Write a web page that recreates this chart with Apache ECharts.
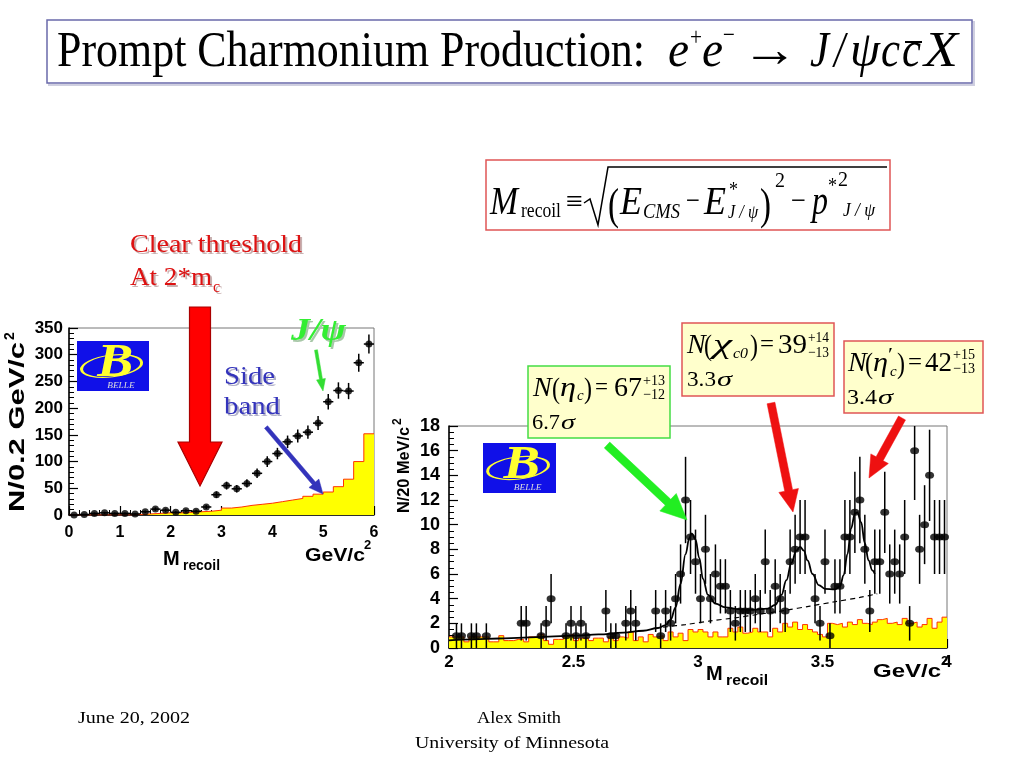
<!DOCTYPE html>
<html><head><meta charset="utf-8">
<script src="https://cdn.jsdelivr.net/npm/echarts@6/dist/echarts.min.js"></script>
<style>html,body{margin:0;padding:0;background:#fff}#c{width:1024px;height:768px}</style>
</head><body><div id="c"></div>
<script>
// ---------------- DATA ----------------
// Left panel: M_recoil, 0.2 GeV bins
const leftBinCenters = [0.1,0.3,0.5,0.7,0.9,1.1,1.3,1.5,1.7,1.9,2.1,2.3,2.5,2.7,2.9,3.1,3.3,3.5,3.7,3.9,4.1,4.3,4.5,4.7,4.9,5.1,5.3,5.5,5.7,5.9];
const leftCounts = [0,1,3,4,3,3,2,6,11,9,5,8,7,15,38,55,49,59,78,100,115,137,148,155,172,212,233,232,285,320];
const leftErrors = [1,1,1.7,2,1.7,1.7,1.4,2.4,3.3,3,2.2,2.8,2.6,3.9,6.2,7.4,7,7.7,8.8,10,10.7,11.7,12.2,12.5,13.1,14.6,15.3,15.2,16.9,17.9];
const leftBinHalfWidth = 0.1;
const leftSideBand = [0,0,0,0,0,0,1,2,3,4,4,5,6,7,9,13,15,18,20,22,25,28,31,35,39,43,53,67,100,152];

// Right panel: 20 MeV bins from 2.0 to 4.0 GeV
const rightBinStart = 2.0;
const rightBinWidth = 0.02;
const rightCounts = [
  null,1,1,null,1,1,null,1,null,null,
  null,null,null,null,2,2,null,null,1,2,
  4,null,null,1,2,1,2,1,null,null,
  null,3,1,1,null,2,3,2,null,null,
  null,3,1,3,2,4,6,12,9,7,
  4,8,4,6,5,5,3,2,3,3,
  3,4,3,7,3,5,4,3,7,8,
  9,9,null,4,2,7,1,5,5,9,
  9,11,12,8,3,7,7,11,6,7,
  6,9,2,16,8,10,14,9,9,9];
const rightErrorByCount = {1:1.0,2:1.4,3:1.7,4:2.0,5:2.2,6:2.4,7:2.6,8:2.8,9:3.0,10:3.2,11:3.3,12:3.5,14:3.7,16:4.0};
const rightSideBand = [
  0.9,0.9,0.9,0.5,0.9,0.9,0.9,0.9,0.5,0.5,
  1.0,0.6,0.6,0.7,0.7,0.5,0.9,0.9,1.1,0.6,
  0.3,0.7,0.7,1.0,1.1,0.6,0.8,0.8,0.6,0.8,
  0.8,0.5,0.9,0.6,0.9,0.8,1.3,0.6,0.9,0.5,
  1.1,0.9,1.0,0.6,1.3,0.9,1.2,0.6,1.5,1.3,
  1.5,1.3,0.9,1.3,0.9,0.9,1.6,1.3,1.7,1.2,
  1.3,1.6,1.3,1.3,0.9,1.6,1.3,2.0,1.7,2.1,
  1.5,1.9,1.5,1.3,1.1,0.9,2.0,1.9,2.0,1.7,
  2.1,1.9,2.3,2.0,1.9,2.1,2.3,2.4,2.0,2.1,
  1.9,2.4,2.0,2.1,1.7,1.9,2.4,1.6,2.1,2.5];
const fitCurveX = [2.00,2.10,2.20,2.30,2.40,2.50,2.60,2.70,2.78,2.84,2.87,2.89,2.91,2.93,2.95,2.965,2.975,2.99,3.005,3.02,3.04,3.07,3.11,3.16,3.22,3.28,3.31,3.335,3.355,3.375,3.395,3.41,3.425,3.44,3.46,3.485,3.51,3.55,3.57,3.585,3.60,3.615,3.63,3.64,3.655,3.67,3.685,3.70,3.71];
const fitCurveY = [0.62,0.70,0.77,0.84,0.92,1.00,1.10,1.24,1.40,1.62,1.85,2.3,3.3,5.2,7.6,8.9,9.3,8.8,7.3,5.6,4.3,3.6,3.3,3.15,3.1,3.2,3.5,4.3,5.5,6.9,7.9,8.2,7.9,7.1,6.0,5.1,4.8,4.75,5.0,5.9,7.6,9.7,10.9,11.0,10.2,8.5,7.1,6.3,6.0];
const bkgCurveX = [2.86,2.95,3.05,3.15,3.25,3.35,3.45,3.55,3.65,3.72];
const bkgCurveY = [1.7,1.9,2.2,2.45,2.75,3.05,3.4,3.75,4.1,4.4];

// ---------------- HELPERS ----------------
const SERIF = '"Liberation Serif","Times New Roman",serif';
const SANS = '"Liberation Sans",Arial,sans-serif';
const mctx = document.createElement('canvas').getContext('2d');
const G = [];
function fontStr(size, o) { return (o.italic ? 'italic ' : '') + (o.bold ? 'bold ' : '') + size + 'px ' + (o.family || SERIF); }
function T(str, x, base, size, o) {
  o = o || {};
  const font = fontStr(size, o);
  let sx = 1;
  if (o.w) { mctx.font = font; sx = o.w / mctx.measureText(str).width; }
  const el = { type: 'text', x: x, y: base - 0.34 * size, scaleX: sx, z: o.z || 100,
    style: { text: str, font: font, fill: o.fill || '#000', align: o.align || 'left', verticalAlign: 'middle' } };
  G.push(el);
  return el;
}
function TR(str, x, yStart, size, o) { // rotated text reading upward, starting at yStart
  o = o || {};
  const font = fontStr(size, o);
  let sx = 1;
  mctx.font = font;
  const nat = mctx.measureText(str).width;
  if (o.w) sx = o.w / nat;
  G.push({ type: 'text', x: x, y: yStart, rotation: Math.PI / 2, scaleX: sx, z: 100,
    style: { text: str, font: font, fill: o.fill || '#000', align: 'left', verticalAlign: 'middle' } });
  return nat * sx;
}
function shadowT(str, x, base, size, o) {
  const so = Object.assign({}, o, { fill: o.shadow || '#c8b0b0', z: 99 });
  T(str, x + 2, base + 2, size, so);
  T(str, x, base, size, o);
}
function box(x, y, w, h, stroke, fill, lw) {
  G.push({ type: 'rect', shape: { x: x, y: y, width: w, height: h }, z: 90,
    style: { fill: fill || '#fff', stroke: stroke, lineWidth: lw || 1.5 } });
}
function arrow(x1, y1, x2, y2, w, hl, hw, fill, stroke) {
  const dx = x2 - x1, dy = y2 - y1, L = Math.hypot(dx, dy), ux = dx / L, uy = dy / L, nx = -uy, ny = ux;
  const bx = x2 - ux * hl, by = y2 - uy * hl;
  const pts = [[x1 + nx * w / 2, y1 + ny * w / 2], [bx + nx * w / 2, by + ny * w / 2], [bx + nx * hw / 2, by + ny * hw / 2], [x2, y2],
    [bx - nx * hw / 2, by - ny * hw / 2], [bx - nx * w / 2, by - ny * w / 2], [x1 - nx * w / 2, y1 - ny * w / 2]];
  G.push({ type: 'polygon', shape: { points: pts }, z: 110, style: { fill: fill, stroke: stroke || fill, lineWidth: stroke ? 1.2 : 0.5 } });
}
function line(x1, y1, x2, y2, c, lw) {
  G.push({ type: 'line', shape: { x1: x1, y1: y1, x2: x2, y2: y2 }, z: 100, style: { stroke: c || '#000', lineWidth: lw || 1.3 } });
}
function logo(x, y, w, h) {
  G.push({ type: 'rect', shape: { x: x, y: y, width: w, height: h }, z: 95, style: { fill: '#1010e8' } });
  G.push({ type: 'circle', shape: { cx: 0, cy: 0, r: w * 0.42 }, x: x + w * 0.48, y: y + h * 0.5, scaleY: 0.36, rotation: 0.12, z: 96,
    style: { fill: 'none', stroke: '#ffff30', lineWidth: 3 } });
  T('B', x + w * 0.28, y + h * 0.78, h * 0.92, { italic: true, bold: true, fill: '#ffff30', w: w * 0.5, z: 97 });
  T('BELLE', x + w * 0.42, y + h * 0.95, 9, { italic: true, fill: '#dddddd', w: w * 0.38, z: 97 });
}

// ---------------- DECORATION ----------------
// Title
G.push({ type: 'rect', shape: { x: 49, y: 22, width: 925, height: 63 }, z: 80, style: { fill: 'none', stroke: '#cfcfe0', lineWidth: 2 } });
box(47, 20, 925, 63, '#6a6aaa', '#fff', 1.5);
T('Prompt Charmonium Production:', 57, 70, 50, { w: 588 });
T('e', 668, 70, 50, { italic: true, w: 21 });
T('+', 690, 47, 26, { w: 12 });
T('e', 702, 70, 50, { italic: true, w: 21 });
T('\u2212', 723, 45, 26, { w: 12 });
T('\u2192', 742, 70, 50, { w: 56 });
T('J', 810, 70, 50, { italic: true, w: 19 });
T('/', 834, 70, 50, { italic: true, w: 11 });
T('\u03c8', 850, 70, 50, { italic: true, w: 30 });
T('c', 881, 70, 50, { italic: true, w: 19 });
T('c', 902, 70, 50, { italic: true, w: 19 });
line(905, 42, 922, 42, '#000', 2);
T('X', 924, 70, 50, { italic: true, w: 34 });

// Formula box
box(486, 160, 404, 70, '#e05555', '#fff', 1.5);
T('M', 490, 217, 40, { italic: true, w: 28 });
T('recoil', 521, 219, 20, { w: 40 });
T('\u2261', 566, 213, 30, { w: 17 });
G.push({ type: 'polyline', shape: { points: [[584, 203], [590, 199], [598, 225], [608, 167], [887, 167]] }, z: 100, style: { stroke: '#000', lineWidth: 1.5, fill: 'none' } });
T('(', 608, 222, 44, { w: 11 });
T('E', 620, 217, 40, { italic: true, w: 22 });
T('CMS', 643, 220, 22, { italic: true, w: 37 });
T('\u2212', 686, 212, 30, { w: 14 });
T('E', 704, 217, 40, { italic: true, w: 22 });
T('*', 729, 198, 22, { w: 9 });
T('J / \u03c8', 728, 219, 18, { italic: true, w: 30 });
T(')', 760, 222, 44, { w: 11 });
T('2', 775, 189, 22, { w: 10 });
T('\u2212', 791, 212, 30, { w: 15 });
T('p', 812, 217, 40, { italic: true, w: 16 });
T('*', 828, 194, 22, { w: 9 });
T('2', 838, 188, 22, { w: 10 });
T('J / \u03c8', 843, 217, 18, { italic: true, w: 32 });

// Annotation boxes
box(528, 366, 142, 72, '#44dd44', '#ffffcc', 1.5);
T('N', 533, 398, 28, { italic: true });
T('(', 552, 400, 30, { w: 8 });
T('\u03b7', 560, 398, 28, { italic: true, w: 16 });
T('c', 577, 401, 15, { italic: true });
T(')', 584, 400, 30, { w: 8 });
T('=', 595, 397, 26, { w: 13 });
T('67', 614, 398, 28, { w: 28 });
T('+13', 643, 386, 15, { w: 22 });
T('\u221212', 643, 400, 15, { w: 22 });
T('6.7', 532, 431, 22, { w: 28 });
T('\u03c3', 561, 431, 22, { italic: true, w: 14 });

box(682, 323, 152, 73, '#e05555', '#ffffcc', 1.5);
T('N', 687, 355, 28, { italic: true });
T('(', 704, 357, 30, { w: 8 });
T('\u03c7', 713, 355, 28, { italic: true, w: 19 });
T('c0', 733, 359, 15, { italic: true, w: 15 });
T(')', 750, 357, 30, { w: 8 });
T('=', 760, 354, 26, { w: 14 });
T('39', 778, 355, 28, { w: 29 });
T('+14', 808, 343, 15, { w: 21 });
T('\u221213', 808, 358, 15, { w: 21 });
T('3.3', 687, 388, 22, { w: 29 });
T('\u03c3', 717, 388, 22, { italic: true, w: 15 });

box(844, 341, 139, 72, '#e05555', '#ffffcc', 1.5);
T('N', 848, 373, 28, { italic: true });
T('(', 865, 375, 30, { w: 8 });
T('\u03b7', 873, 373, 28, { italic: true, w: 15 });
T('\u2032', 888, 362, 18, { w: 5 });
T('c', 890, 377, 15, { italic: true });
T(')', 897, 375, 30, { w: 8 });
T('=', 908, 372, 26, { w: 14 });
T('42', 925, 373, 28, { w: 27 });
T('+15', 953, 360, 15, { w: 22 });
T('\u221213', 953, 374, 15, { w: 22 });
T('3.4', 847, 406, 22, { w: 30 });
T('\u03c3', 878, 406, 22, { italic: true, w: 15 });

// Arrows
arrow(200, 307, 200, 486, 21, 44, 44, '#ff0000', '#aa0000');
arrow(607, 445, 687, 520, 8, 26, 24, '#22ee22');
arrow(771, 403, 793, 512, 8, 22, 20, '#ee1111');
arrow(902, 418, 869, 478, 8, 22, 20, '#ee1111');
arrow(266, 427, 323, 494, 4, 14, 13, '#3333bb');
arrow(316, 350, 323, 391, 3, 12, 9, '#33dd33');

// Annotation texts
shadowT('Clear threshold', 130, 254, 26, { fill: '#dd1111', w: 172 });
shadowT('At 2*m', 130, 287, 26, { fill: '#dd1111', w: 82 });
shadowT('c', 213, 293, 16, { fill: '#dd1111' });
shadowT('J/\u03c8', 291, 343, 32, { fill: '#33ee33', italic: true, bold: true, w: 55, shadow: '#a8c8a8' });
shadowT('Side', 224, 386, 26, { fill: '#3333bb', w: 51, shadow: '#b0b0c8' });
shadowT('band', 224, 416, 26, { fill: '#3333bb', w: 56, shadow: '#b0b0c8' });

// Logos
logo(77, 341, 72, 50);
logo(483, 443, 73, 50);

// Axis titles
const l1 = TR('N/0.2 GeV/c', 18, 512, 22, { bold: true, family: SANS, w: 170 });
T('2', 3, 512 - l1 - 2, 14, { bold: true, family: SANS });
G[G.length - 1].rotation = Math.PI / 2;
G[G.length - 1].y = 512 - l1 - 2; G[G.length - 1].x = 10;
const l2 = TR('N/20 MeV/c', 404, 513, 17, { bold: true, family: SANS, w: 86 });
T('2', 0, 0, 12, { bold: true, family: SANS });
G[G.length - 1].rotation = Math.PI / 2;
G[G.length - 1].y = 513 - l2 - 2; G[G.length - 1].x = 398;

T('M', 163, 566, 20, { bold: true, family: SANS });
T('recoil', 183, 571, 14, { bold: true, family: SANS, w: 37 });
T('GeV/c', 305, 562, 19, { bold: true, family: SANS, w: 60 });
T('2', 364, 550, 13, { bold: true, family: SANS });
T('M', 706, 681, 20, { bold: true, family: SANS });
T('recoil', 726, 686, 14, { bold: true, family: SANS, w: 42 });
T('GeV/c', 873, 678, 18, { bold: true, family: SANS, w: 68 });
T('2', 941, 666, 13, { bold: true, family: SANS });

// Footer
T('June 20, 2002', 78, 724, 17, { w: 112 });
T('Alex Smith', 519, 724, 17, { align: 'center', w: 84 });
T('University of Minnesota', 512, 749, 17, { align: 'center', w: 194 });

// ---------------- SERIES DATA ----------------
const leftHist = leftSideBand.map((v, i) => [leftBinCenters[i] - leftBinHalfWidth, v]);
leftHist.push([leftBinCenters[leftBinCenters.length - 1] + leftBinHalfWidth, leftSideBand[leftSideBand.length - 1]]);
const leftPts = leftCounts.map((v, i) => [leftBinCenters[i], v]);
const leftErr = leftCounts.map((v, i) => [leftBinCenters[i], v, leftErrors[i], leftBinHalfWidth]);

const rightHist = rightSideBand.map((v, i) => [rightBinStart + i * rightBinWidth, v]);
rightHist.push([rightBinStart + rightSideBand.length * rightBinWidth, rightSideBand[rightSideBand.length - 1]]);
const rightPts = [], rightErr = [];
rightCounts.forEach((v, i) => {
  if (v === null) return;
  const x = rightBinStart + (i + 0.5) * rightBinWidth;
  rightPts.push([x, v]);
  rightErr.push([x, v, rightErrorByCount[v], 0]);
});
const fitData = fitCurveX.map((x, i) => [x, fitCurveY[i]]);
const bkgData = bkgCurveX.map((x, i) => [x, bkgCurveY[i]]);

function errRender(params, api) {
  const x = api.value(0), y = api.value(1), e = api.value(2), hw = api.value(3);
  const cs = params.coordSys;
  const top = cs.y, bot = cs.y + cs.height;
  const c = api.coord([x, y]);
  const pT = api.coord([x, y + e]), pB = api.coord([x, Math.max(0, y - e)]);
  const ch = [{ type: 'line', shape: { x1: c[0], y1: Math.max(top, pT[1]), x2: c[0], y2: Math.min(bot, pB[1]) }, style: { stroke: '#000', lineWidth: 1.5 } }];
  if (hw > 0) {
    const l = api.coord([x - hw, y]), r = api.coord([x + hw, y]);
    ch.push({ type: 'line', shape: { x1: l[0], y1: c[1], x2: r[0], y2: c[1] }, style: { stroke: '#000', lineWidth: 1.5 } });
  }
  return { type: 'group', children: ch };
}

function axisCommon(fs, margin) {
  return {
    axisLine: { show: true, onZero: false, lineStyle: { color: '#000', width: 1.5 } },
    axisTick: { show: true, inside: true, length: 9, lineStyle: { color: '#000', width: 1.2 } },
    minorTick: { show: true, length: 5, lineStyle: { color: '#000', width: 1 } },
    splitLine: { show: false },
    axisLabel: { color: '#000', fontFamily: SANS, fontWeight: 'bold', fontSize: fs, margin: margin, hideOverlap: false }
  };
}

const chart = echarts.init(document.getElementById('c'), null, { renderer: 'canvas', width: 1024, height: 768 });
chart.setOption({
  animation: false,
  backgroundColor: '#ffffff',
  grid: [
    { left: 69, top: 328, width: 305, height: 187, show: true, borderColor: '#777', borderWidth: 1, backgroundColor: 'transparent' },
    { left: 449, top: 426, width: 498, height: 222, show: true, borderColor: '#777', borderWidth: 1, backgroundColor: 'transparent' }
  ],
  xAxis: [
    Object.assign({ gridIndex: 0, type: 'value', min: 0, max: 6, interval: 1 }, axisCommon(16, 10), { minorTick: { show: true, splitNumber: 5, length: 5, lineStyle: { color: '#000' } } }),
    Object.assign({ gridIndex: 1, type: 'value', min: 2, max: 4, interval: 0.5 }, axisCommon(17, 6), { minorTick: { show: true, splitNumber: 5, length: 5, lineStyle: { color: '#000' } } })
  ],
  yAxis: [
    Object.assign({ gridIndex: 0, type: 'value', min: 0, max: 350, interval: 50 }, axisCommon(17, 6), { minorTick: { show: true, splitNumber: 5, length: 5, lineStyle: { color: '#000' } } }),
    Object.assign({ gridIndex: 1, type: 'value', min: 0, max: 18, interval: 2 }, axisCommon(18, 9), { minorTick: { show: true, splitNumber: 4, length: 5, lineStyle: { color: '#000' } } })
  ],
  series: [
    { type: 'line', xAxisIndex: 0, yAxisIndex: 0, step: 'end', data: leftHist, symbol: 'none', z: 1,
      lineStyle: { color: '#ff3300', width: 1 }, areaStyle: { color: '#ffff00', opacity: 1 } },
    { type: 'custom', xAxisIndex: 0, yAxisIndex: 0, data: leftErr, renderItem: errRender, z: 3, silent: true },
    { type: 'scatter', xAxisIndex: 0, yAxisIndex: 0, data: leftPts, symbol: 'circle', symbolSize: 7, itemStyle: { color: '#000' }, z: 4 },
    { type: 'line', xAxisIndex: 1, yAxisIndex: 1, step: 'end', data: rightHist, symbol: 'none', z: 1,
      lineStyle: { color: '#ff3300', width: 1 }, areaStyle: { color: '#ffff00', opacity: 1 } },
    { type: 'custom', xAxisIndex: 1, yAxisIndex: 1, data: rightErr, renderItem: errRender, z: 3, silent: true },
    { type: 'scatter', xAxisIndex: 1, yAxisIndex: 1, data: rightPts, symbol: 'circle', symbolSize: [9, 7], itemStyle: { color: '#000' }, z: 4 },
    { type: 'line', xAxisIndex: 1, yAxisIndex: 1, data: bkgData, symbol: 'none', smooth: 0.3, z: 5,
      lineStyle: { color: '#000', width: 1.2, type: [5, 4] } },
    { type: 'line', xAxisIndex: 1, yAxisIndex: 1, data: fitData, symbol: 'none', smooth: 0.4, smoothMonotone: 'x', z: 5,
      lineStyle: { color: '#000', width: 1.8 } }
  ],
  graphic: { elements: G }
});
</script>
</body></html>
